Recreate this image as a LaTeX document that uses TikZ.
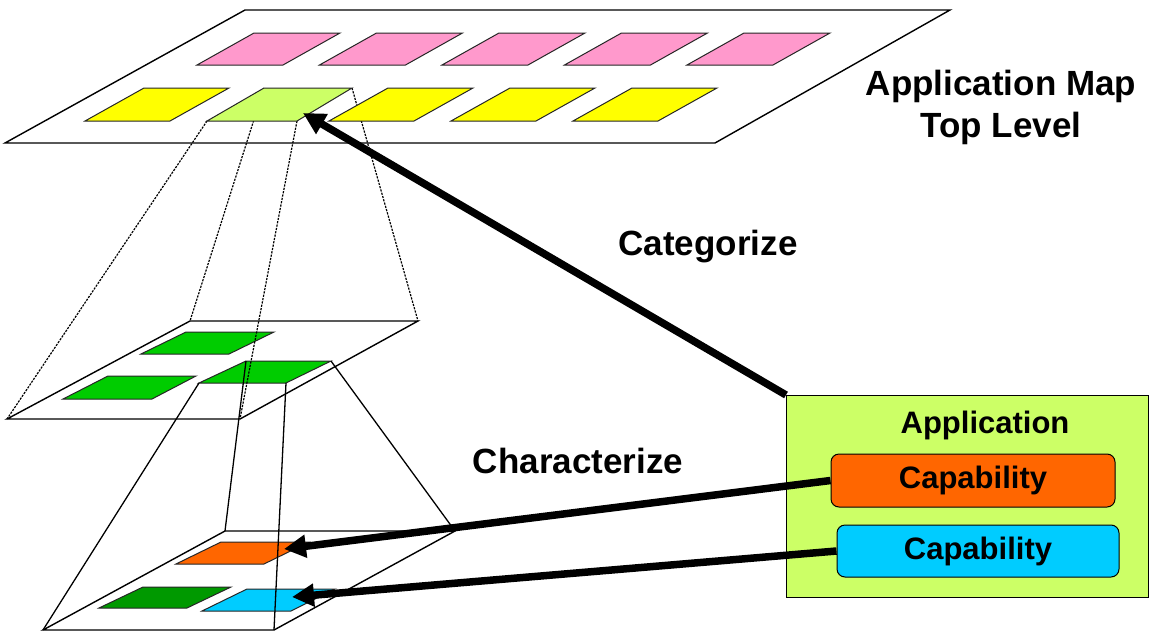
\documentclass[tikz,border=0pt]{standalone}
\usepackage{fontspec}
\setmainfont{Liberation Sans}
\usetikzlibrary{arrows.meta}
\definecolor{pinkc}{HTML}{FF99CC}
\definecolor{yellowc}{HTML}{FFFF00}
\definecolor{limec}{HTML}{CCFF66}
\definecolor{greenc}{HTML}{00CC00}
\definecolor{dgreenc}{HTML}{009900}
\definecolor{orangec}{HTML}{FF6600}
\definecolor{cyanc}{HTML}{00CCFF}
\begin{document}
\begin{tikzpicture}[x=1pt,y=-1pt,
  plane/.style={draw=black, fill=white, line width=1.4pt, line join=miter},
  pg/.style={draw=black!85, line width=1pt},
  frustd/.style={draw=black, line width=1.2pt, dash pattern=on 2.2pt off 1.2pt},
  fruss/.style={draw=black, line width=1.3pt},
  bigarrow/.style={line width=7.5pt, -{Triangle[length=22pt,width=22pt]}},
  lbl/.style={font=\fontsize{35}{42}\selectfont\bfseries, inner sep=0pt},
  boxlbl/.style={font=\fontsize{31}{36}\selectfont\bfseries, inner sep=0pt},
  capbox/.style={draw=black, line width=1pt, rounded corners=8pt, minimum width=284pt, minimum height=53pt, boxlbl},
]
\useasboundingbox (0,0) rectangle (1151,632);

% named corners
\coordinate (lTL) at (264,88);
\coordinate (lTR) at (352,88);
\coordinate (lBR) at (297,121);
\coordinate (lBL) at (207,121);
\coordinate (mTL) at (190,321);
\coordinate (mTR) at (418,321);
\coordinate (mBR) at (240,419);
\coordinate (mBL) at (7,419);
\coordinate (cTL) at (246,361);
\coordinate (cTR) at (331,361);
\coordinate (cBR) at (286,383);
\coordinate (cBL) at (199,383);
\coordinate (bTL) at (225,531);
\coordinate (bTR) at (455,531);
\coordinate (bBR) at (274,630);
\coordinate (bBL) at (43,630);

% top plane
\path[plane] (245,10) -- (950,10) -- (715,143) -- (5,143) -- cycle;

% middle plane
\path[plane] (mTL) -- (mTR) -- (mBR) -- (mBL) -- cycle;
\path[pg, fill=greenc] (186,332) -- (274,332) -- (229,354) -- (141,354) -- cycle;
\path[pg, fill=greenc] (108,376) -- (196,376) -- (152,399) -- (63,399) -- cycle;
\path[pg, fill=greenc] (cTL) -- (cTR) -- (cBR) -- (cBL) -- cycle;

% dashed frustum lines
\draw[frustd] (lBL) -- (mBL);
\draw[frustd] (lTL) -- (mTL);
\draw[frustd] (lBR) -- (mBR);
\draw[frustd] (lTR) -- (mTR);

% top parallelograms
\foreach \i in {0,...,4} {
  \path[pg, fill=pinkc] ({254+122.5*\i},33) -- ++(86,0) -- ({197+122.5*\i+86},65) -- ({197+122.5*\i},65) -- cycle;
}
\foreach \i in {0,2,3,4} {
  \path[pg, fill=yellowc] ({144+122*\i},88) -- ++(85,0) -- ({85+122*\i+85},121) -- ({85+122*\i},121) -- cycle;
}
\path[pg, fill=limec] (lTL) -- (lTR) -- (lBR) -- (lBL) -- cycle;

% bottom plane
\path[plane] (bTL) -- (bTR) -- (bBR) -- (bBL) -- cycle;
\path[pg, fill=orangec] (221,542) -- (309,542) -- (264,564) -- (176,564) -- cycle;
\path[pg, fill=dgreenc] (143,587) -- (231,587) -- (187,608) -- (99,608) -- cycle;
\path[pg, fill=cyanc] (247,589) -- (335,589) -- (291,611) -- (202,611) -- cycle;

% solid frustum lines
\draw[fruss] (cBL) -- (bBL);
\draw[fruss] (cTL) -- (bTL);
\draw[fruss] (cBR) -- (bBR);
\draw[fruss] (cTR) -- (bTR);

% application box
\node[draw=black, fill=limec, line width=1.2pt, minimum width=362pt, minimum height=202pt, anchor=north west, inner sep=0pt] (app) at (786,395) {};
\node[boxlbl] (apptitle) at (985,425) {Application};
\node[capbox, fill=orangec] (cap1) at (973,480.5) {Capability};
\node[capbox, fill=cyanc, minimum width=282pt, minimum height=52pt] (cap2) at (978,551) {Capability};

% labels
\node[lbl, align=center] (title) at (1001,107) {Application Map\\Top Level};
\node[lbl] (categ) at (708,247) {Categorize};
\node[lbl] (charac) at (578,461) {Characterize};

% arrows
\coordinate (catTip) at (303,113);
\coordinate (oTip) at (284,549);
\coordinate (cyTip) at (292,597);
\draw[bigarrow] (app.north west) -- (catTip);
\draw[bigarrow] (cap1.west) -- (oTip);
\draw[bigarrow] (cap2.west) -- (cyTip);
\end{tikzpicture}
\end{document}
